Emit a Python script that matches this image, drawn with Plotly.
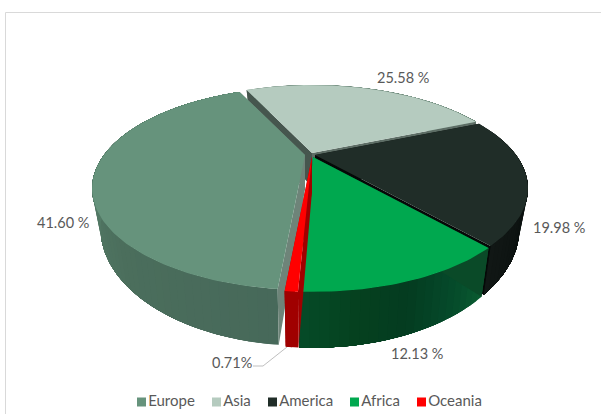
import numpy as np
import plotly.graph_objects as go

# Regional shares, in percent, clockwise from the start of the first slice
categories = ["Europe", "Asia", "America", "Africa", "Oceania"]
shares = [41.60, 25.58, 19.98, 12.13, 0.71]

top_colors = ["#66937c", "#b5cbbf", "#202d28", "#00a84f", "#ff0000"]
# Shading along each rim, from the start of the slice to its end
wall_shades = [
    ["#47695a", "#4b6e5c", "#557c68", "#5f8a74", "#5f8a74"],
    ["#6f8a7c", "#6f8a7c"],
    ["#18211e", "#141b18", "#0c1210", "#0c1210", "#111715"],
    ["#0a5a30", "#05492a", "#043c20", "#05411f", "#054a27"],
    ["#a00000", "#a00000"],
]
cut_colors = [
    ("#6e8479", "#6e8479"),
    ("#46564e", "#5d6d65"),
    ("#0a0f0d", "#050807"),
    ("#0a4a28", "#0a4a28"),
    ("#a00000", "#a00000"),
]
# Screen offset of each pulled-out slice
slice_shift = [(-9, 1), (-2, -1), (1, 1), (-1, 3), (-2, 3)]

# Perspective model of the disc, in page pixels
CX, CY = 314, 154
RX, RY = 201, 90.4
PERSP = 0.33
BASE_DROP = 34.6
BASE_SX, BASE_SY = 0.96, 1.158
START_DEG = -25.0
STEP_DEG = 2.0

LABEL_FONT = dict(family="Lato", size=14.5, color="#595959")


def rim(deg, base=False):
    t = np.radians(deg)
    u, v = np.sin(t), np.cos(t)
    w = 1 + PERSP * v
    if base:
        return CX + BASE_SX * RX * u / w, CY + BASE_DROP - BASE_SY * RY * v / w
    return CX + RX * u / w, CY - RY * v / w


def lerp_color(stops, f):
    rgb = np.array([[int(s[i:i + 2], 16) for i in (1, 3, 5)] for s in stops], float)
    pos = f * (len(stops) - 1)
    i = min(int(pos), len(stops) - 2)
    c = rgb[i] + (rgb[i + 1] - rgb[i]) * (pos - i)
    return "#%02x%02x%02x" % tuple(int(round(x)) for x in c)


def polygon(xs, ys, color):
    return go.Scatter(
        x=list(xs), y=list(ys), mode="lines", fill="toself", fillcolor=color,
        line=dict(color=color, width=0), hoverinfo="skip", showlegend=False,
    )


fig = go.Figure()

spans = []
start = START_DEG - shares[0] * 3.6
for s in shares:
    spans.append((start, start + s * 3.6))
    start += s * 3.6

# Back slices are painted first so the nearer ones overlap them
for i in [1, 0, 2, 3, 4]:
    a0, a1 = spans[i]
    dx, dy = slice_shift[i]
    apex = (CX + dx, CY + dy)
    apex_b = (CX + dx, CY + BASE_DROP + dy)

    # Rim: each band runs on to the slice's end, so the next one paints over it
    n = max(1, int(np.ceil((a1 - a0) / STEP_DEG)))
    edges = np.linspace(a0, a1, n + 1)
    for k in range(n):
        arc = np.linspace(edges[k], a1, max(4, (n - k) * 2))
        tx, ty = rim(arc)
        bx, by = rim(arc[::-1], True)
        fig.add_trace(polygon(
            np.r_[tx, bx] + dx, np.r_[ty, by] + dy,
            lerp_color(wall_shades[i], k / max(1, n - 1))))

    # Radial cut faces
    for deg, col in zip((a0, a1), cut_colors[i]):
        tx, ty = rim(deg)
        bx, by = rim(deg, True)
        fig.add_trace(polygon(
            [apex[0], tx + dx, bx + dx, apex_b[0]],
            [apex[1], ty + dy, by + dy, apex_b[1]], col))

    # Top face
    arc = np.linspace(a0, a1, max(8, n * 2))
    tx, ty = rim(arc)
    fig.add_trace(polygon(np.r_[apex[0], tx + dx], np.r_[apex[1], ty + dy], top_colors[i]))

# Value labels around the disc
label_pos = [(63, 222), (403, 77), (559, 227), (417, 353)]
for share, (x, y) in zip(shares, label_pos):
    fig.add_annotation(x=x, y=y, text=f"{share:.2f} %", showarrow=False, font=LABEL_FONT)
fig.add_annotation(x=232, y=362, text=f"{shares[4]:.2f}%", showarrow=False, font=LABEL_FONT)
fig.add_trace(go.Scatter(x=[253, 263, 287], y=[366, 366, 347], mode="lines",
                         line=dict(color="#bfbfbf", width=1),
                         hoverinfo="skip", showlegend=False))

# Legend row along the bottom
legend_x = [141.5, 216.5, 272.5, 354.5, 421.5]
fig.add_trace(go.Scatter(
    x=legend_x, y=[402] * 5, mode="markers+text", text=categories,
    textposition="middle right", textfont=dict(family="Lato", size=15, color="#595959"),
    marker=dict(symbol="square", size=9, color=top_colors),
    hoverinfo="skip", showlegend=False,
))

fig.update_layout(
    width=601, height=414, margin=dict(l=0, r=0, t=0, b=0),
    paper_bgcolor="white", plot_bgcolor="white", showlegend=False,
    xaxis=dict(range=[0, 601], visible=False, fixedrange=True),
    yaxis=dict(range=[414, 0], visible=False, fixedrange=True),
    shapes=[dict(type="rect", xref="x", yref="y", x0=5.5, y0=12.5, x1=640, y1=440,
                 line=dict(color="#d9d9d9", width=1), layer="below")],
)

fig.write_html("out.html")
